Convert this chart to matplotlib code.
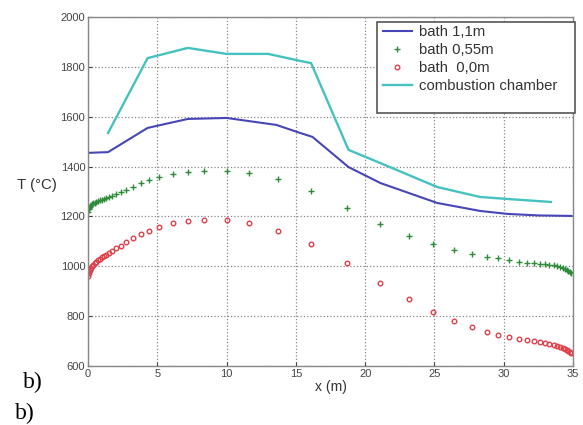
import matplotlib
matplotlib.use("Agg")
import matplotlib.pyplot as plt
from matplotlib.patches import Rectangle

# --- data ---
x_line = [0.0, 1.45, 4.3, 5.1, 7.2, 10.0, 13.6, 15.3, 16.2, 18.8, 21.1, 25.2, 28.3, 30.3, 32.5, 34.9]
t_bath11 = [1455, 1458, 1555, 1565, 1591, 1595, 1567, 1535, 1519, 1398, 1334, 1254, 1222, 1210, 1204, 1202]

x_comb = [1.45, 4.3, 7.2, 10.0, 13.0, 15.3, 16.1, 18.8, 21.1, 25.2, 28.3, 30.3, 33.4]
t_comb = [1535, 1835, 1876, 1852, 1852, 1824, 1815, 1467, 1414, 1318, 1278, 1270, 1258]

x_nodes = [0.0, 0.04, 0.09, 0.15, 0.22, 0.3, 0.39, 0.49, 0.6, 0.72, 0.85, 0.99, 1.14, 1.3,
           1.5, 1.7, 2.0, 2.35, 2.75, 3.25, 3.8, 4.4, 5.1, 6.1, 7.2, 8.4, 10.0, 11.6, 13.7,
           16.1, 18.7, 21.1, 23.2, 24.9, 26.4, 27.7, 28.8, 29.6, 30.4, 31.1, 31.7, 32.2,
           32.6, 33.0, 33.3, 33.6, 33.85, 34.05, 34.25, 34.4, 34.55, 34.65, 34.75, 34.85]
t_bath055 = [1218, 1228, 1234, 1239, 1244, 1248, 1252, 1255, 1258, 1261, 1264, 1267, 1270, 1273,
             1277, 1282, 1290, 1298, 1308, 1320, 1333, 1346, 1360, 1372, 1380, 1384, 1383, 1375, 1352,
             1302, 1234, 1170, 1122, 1090, 1064, 1049, 1039, 1032, 1025, 1019, 1015, 1012,
             1010, 1008, 1006, 1004, 1001, 998, 994, 990, 985, 981, 977, 972]
t_bath00 = [961, 972, 980, 987, 994, 1000, 1007, 1013, 1019, 1025, 1031, 1036, 1042, 1047,
            1054, 1061, 1072, 1082, 1097, 1112, 1128, 1142, 1158, 1172, 1181, 1186, 1185, 1173, 1142,
            1090, 1014, 933, 869, 817, 781, 757, 737, 725, 716, 710, 705, 700,
            697, 693, 689, 685, 681, 677, 672, 668, 664, 661, 657, 653]

labels = ["bath 1,1m", "bath 0,55m", "bath  0,0m", "combustion chamber"]
xticks = [0, 5, 10, 15, 20, 25, 30, 35]
yticks = [600, 800, 1000, 1200, 1400, 1600, 1800, 2000]

plt.rcParams['font.family'] = ['Liberation Sans', 'DejaVu Sans']

W, H = 583, 425
fig = plt.figure(figsize=(W / 100, H / 100), dpi=100)
ax = fig.add_axes([88 / W, 1 - 366 / H, (573 - 88) / W, (366 - 17) / H])

ax.plot(x_line, t_bath11, color='#4646b8', lw=1.5, label=labels[0])
ax.plot(x_nodes, t_bath055, linestyle='none', marker='+', color='#2e8b3a', ms=4.2, mew=1.0, label=labels[1])
ax.plot(x_nodes, t_bath00, linestyle='none', marker='o', mfc='none', mec='#e0404a', ms=3.3, mew=1.0, label=labels[2])
ax.plot(x_comb, t_comb, color='#45c2c0', lw=1.7, label=labels[3])

ax.set_xlim(0, 35)
ax.set_ylim(600, 2000)
ax.set_xticks(xticks)
ax.set_yticks(yticks)
ax.tick_params(direction='in', labelsize=8, colors='#444444', length=3, pad=2)
ax.grid(True, linestyle=':', color='#888888', lw=0.9)
for s in ax.spines.values():
    s.set_color('#888888')
    s.set_linewidth(1.0)

ax.set_xlabel('x (m)', fontsize=10, color='#333333', labelpad=1)
ax.set_ylabel('T (°C)', fontsize=10.8, color='#333333', rotation=0, labelpad=0)
ax.yaxis.set_label_coords(-0.105, 0.50)

# legend frame (MATLAB-style box)
frame = Rectangle((377 / W, 1 - 113 / H), (575 - 377) / W, (113 - 22) / H,
                  transform=fig.transFigure, facecolor='white', edgecolor='#555555',
                  lw=1.2, zorder=4, clip_on=False)
ax.add_patch(frame)

leg = ax.legend(loc='upper left', bbox_to_anchor=(383 / W, 1 - 25.5 / H),
                bbox_transform=fig.transFigure, fontsize=10.7, frameon=False,
                borderaxespad=0, borderpad=0, handlelength=1.95, labelspacing=0.26,
                handletextpad=0.5)
leg.set_zorder(6)
for t in leg.get_texts():
    t.set_color('#333333')

fig.text(23 / W, 1 - 388 / H, 'b)', fontsize=17, family='Liberation Serif', va='baseline')
fig.text(15 / W, 1 - 419 / H, 'b)', fontsize=17, family='Liberation Serif', va='baseline')

fig.savefig('out.png', dpi=100)
